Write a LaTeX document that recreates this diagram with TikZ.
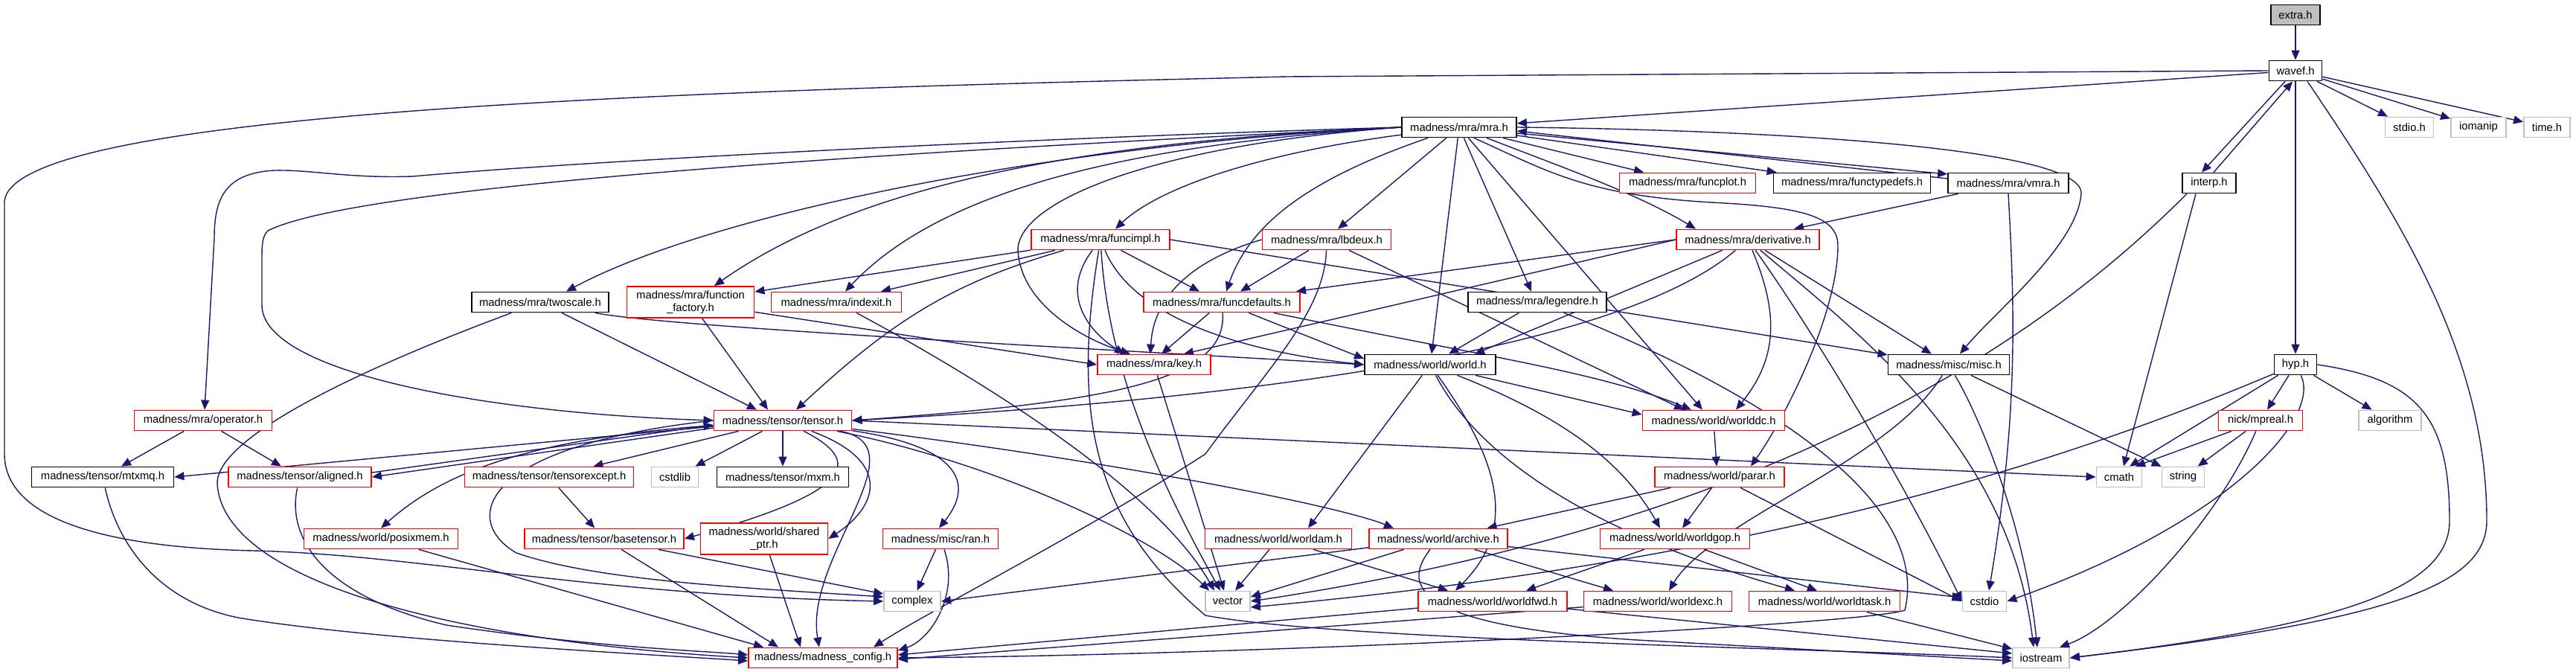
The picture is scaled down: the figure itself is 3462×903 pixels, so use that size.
\documentclass[tikz,border=0pt]{standalone}
\usepackage{fontspec}
\setmainfont{Liberation Sans}
\usetikzlibrary{arrows.meta,calc}
\definecolor{edgec}{HTML}{191970}
\definecolor{redc}{HTML}{FF0000}
\definecolor{grayc}{HTML}{BFBFBF}
\pgfdeclarelayer{bg}
\pgfsetlayers{bg,main}
\begin{document}
\begin{tikzpicture}[x=0.5pt,y=-0.5pt,
 box/.style={draw,rectangle,inner sep=0pt,minimum height=13.5pt,line width=0.9pt,font=\fontsize{7.4pt}{8.6pt}\selectfont,fill=white},
 rb/.style={box,draw=redc},
 kb/.style={box,draw=black},
 gb/.style={box,draw=grayc},
 wd/.style={minimum width=#1*0.5pt},
 tall/.style={minimum height=21pt,align=center},
 e/.style={draw=edgec,line width=0.7pt,-{Triangle[length=6.5pt,width=5.5pt]}},
]
\useasboundingbox (0,0) rectangle (3462,903);
% row 0-1
\node[kb,fill=grayc,wd=66] (extra) at (3085,20) {extra.h};
\node[kb,wd=71] (wavef) at (3085,95) {wavef.h};
% row 2
\node[kb,wd=154] (mra) at (1961,171) {madness/mra/mra.h};
\node[gb,wd=65] (stdioh) at (3238,171) {stdio.h};
\node[gb,wd=74] (iomanip) at (3331,171) {iomanip};
\node[gb,wd=62] (timeh) at (3423,171) {time.h};
% row 3
\node[rb,wd=183] (funcplot) at (2268,246) {madness/mra/funcplot.h};
\node[kb,wd=211] (functypedefs) at (2489,246) {madness/mra/functypedefs.h};
\node[kb,wd=162] (vmra) at (2699,246) {madness/mra/vmra.h};
\node[kb,wd=72] (interp) at (2969,246) {interp.h};
% row 4
\node[rb,wd=186] (funcimpl) at (1479,322) {madness/mra/funcimpl.h};
\node[rb,wd=173] (lbdeux) at (1783,322) {madness/mra/lbdeux.h};
\node[rb,wd=192] (derivative) at (2349,322) {madness/mra/derivative.h};
% row 5
\node[kb,wd=184] (twoscale) at (726,406) {madness/mra/twoscale.h};
\node[rb,wd=171,tall] (funcfactory) at (928,406) {madness/mra/function\\\_factory.h};
\node[rb,wd=175] (indexit) at (1124,406) {madness/mra/indexit.h};
\node[rb,wd=210] (funcdefaults) at (1642,406) {madness/mra/funcdefaults.h};
\node[kb,wd=186] (legendre) at (2066,406) {madness/mra/legendre.h};
% row 6
\node[rb,wd=152] (key) at (1551,490) {madness/mra/key.h};
\node[kb,wd=176] (world) at (1922,490) {madness/world/world.h};
\node[kb,wd=163] (misc) at (2619,490) {madness/misc/misc.h};
\node[kb,wd=57] (hyp) at (3085,490) {hyp.h};
% row 7
\node[rb,wd=185] (operator) at (273,565) {madness/mra/operator.h};
\node[rb,wd=185] (tensor) at (1052,565) {madness/tensor/tensor.h};
\node[rb,wd=191] (worlddc) at (2303,565) {madness/world/worlddc.h};
\node[rb,wd=113] (mpreal) at (3038,565) {nick/mpreal.h};
\node[gb,wd=84] (algorithm) at (3212,565) {algorithm};
% row 8
\node[kb,wd=191] (mtxmq) at (138,641) {madness/tensor/mtxmq.h};
\node[rb,wd=192] (aligned) at (403,641) {madness/tensor/aligned.h};
\node[rb,wd=227] (tensorexcept) at (738,641) {madness/tensor/tensorexcept.h};
\node[gb,wd=63] (cstdlib) at (907,641) {cstdlib};
\node[kb,wd=177] (mxm) at (1052,641) {madness/tensor/mxm.h};
\node[rb,wd=174] (parar) at (2311,641) {madness/world/parar.h};
\node[gb,wd=61] (cmath) at (2848,641) {cmath};
\node[gb,wd=57] (string) at (2934,641) {string};
% row 9
\node[rb,wd=207] (posixmem) at (512,724) {madness/world/posixmem.h};
\node[rb,wd=214] (basetensor) at (812,724) {madness/tensor/basetensor.h};
\node[rb,wd=171,tall] (sharedptr) at (1027,724) {madness/world/shared\\\_ptr.h};
\node[rb,wd=155] (ran) at (1264,724) {madness/misc/ran.h};
\node[rb,wd=197] (worldam) at (1718,724) {madness/world/worldam.h};
\node[rb,wd=186] (archive) at (1933,724) {madness/world/archive.h};
\node[rb,wd=201] (worldgop) at (2251,724) {madness/world/worldgop.h};
% row 10
\node[gb,wd=76] (complex) at (1226,808) {complex};
\node[gb,wd=60] (vector) at (1650,808) {vector};
\node[rb,wd=200] (worldfwd) at (2006,808) {madness/world/worldfwd.h};
\node[rb,wd=199] (worldexc) at (2228,808) {madness/world/worldexc.h};
\node[rb,wd=203] (worldtask) at (2452,808) {madness/world/worldtask.h};
\node[gb,wd=59] (cstdio) at (2667,808) {cstdio};
% row 11
\node[rb,wd=200] (config) at (1106,884) {madness/madness\_config.h};
\node[gb,wd=76] (iostream) at (2743,884) {iostream};

\begin{pgfonlayer}{bg}
\fill[white] (0,0) rectangle (3462,903);
% wavef
\draw[e] (extra) -- (wavef);
\draw[e] (wavef) -- (mra);
\draw[e] (wavef.west) -- (1730,103) .. controls (900,122) and (20,150) .. (6,270) -- (6,610) .. controls (6,690) and (120,735) .. (340,740) .. controls (560,745) and (800,800) .. (complex.west);
\draw[e] ($(wavef.south)+(-14,0)$) -- ($(interp.north)+(-10,0)$);
\draw[e] ($(interp.north)+(6,0)$) -- ($(wavef.south)+(-4,0)$);
\draw[e] (wavef) -- (hyp);
\draw[e] (wavef) -- (stdioh);
\draw[e] (wavef) -- (iomanip);
\draw[e] (wavef) -- (timeh);
\draw[e] ($(wavef.south)+(16,0)$) .. controls (3230,300) and (3342,480) .. (3342,700) .. controls (3342,790) and (3200,835) .. (iostream.east);
% mra
\draw[e] (mra.west) .. controls (1400,185) and (800,215) .. (555,237) .. controls (470,240) and (420,228) .. (370,229) .. controls (300,232) and (288,270) .. (288,320) -- ($(operator.north)+(2,0)$);
\draw[e] (mra.west) .. controls (1400,195) and (500,240) .. (360,310) .. controls (352,318) and (352,330) .. (352,350) -- (352,410) .. controls (352,500) and (650,555) .. (tensor.west);
\draw[e] (mra.west) .. controls (1400,195) and (950,290) .. ($(twoscale.north)+(35,0)$);
\draw[e] (mra.west) .. controls (1450,190) and (1150,250) .. ($(funcfactory.north)+(32,0)$);
\draw[e] (mra.west) .. controls (1500,195) and (1260,260) .. ($(indexit.north)+(12,0)$);
\draw[e] (mra.west) .. controls (1550,195) and (1370,270) .. (1368,335) .. controls (1370,400) and (1440,450) .. ($(key.north)+(-32,0)$);
\draw[e] (mra) .. controls (1700,205) and (1560,250) .. ($(funcimpl.north)+(20,0)$);
\draw[e] (mra) .. controls (1760,240) and (1680,300) .. ($(funcdefaults.north)+(6,0)$);
\draw[e] (mra) -- ($(lbdeux.north)+(15,0)$);
\draw[e] (mra) -- ($(world.north)+(2,0)$);
\draw[e] (mra) -- ($(legendre.north)+(-8,0)$);
\draw[e] (mra) -- ($(worlddc.north)+(-15,0)$);
\draw[e] (mra) .. controls (2100,225) and (2200,260) .. ($(derivative.north)+(-70,0)$);
\draw[e] (mra) -- (funcplot);
\draw[e] (mra) -- (functypedefs);
\draw[e] ($(mra.east)+(0,8)$) -- ($(vmra.west)+(0,-12)$);
\draw[e] ($(vmra.west)+(0,-6)$) -- ($(mra.east)+(0,5)$);
\draw[e] (mra.east) .. controls (2400,175) and (2800,200) .. (2797,260) .. controls (2792,330) and (2680,420) .. ($(misc.north)+(15,0)$);
\draw[e] ($(mra.south)+(20,0)$) .. controls (2080,230) and (2130,262) .. (2300,272) .. controls (2420,278) and (2470,290) .. (2470,330) .. controls (2470,420) and (2400,560) .. ($(parar.north)+(42,0)$);
% vmra, interp
\draw[e] (vmra) -- ($(derivative.north)+(62,0)$);
\draw[e] (vmra.south) .. controls (2708,420) and (2712,560) .. ($(cstdio.north)+(6,0)$);
\draw[e] ($(interp.south)+(-18,0)$) -- ($(cmath.north)+(6,0)$);
\draw[e] ($(interp.south)+(-30,0)$) .. controls (2750,450) and (2400,700) .. (vector.east);
% funcimpl
\draw[e] (funcimpl) -- ($(funcfactory.east)+(0,-14)$);
\draw[e] (funcimpl) -- ($(indexit.north)+(60,0)$);
\draw[e] (funcimpl) .. controls (1280,380) and (1200,430) .. ($(tensor.north)+(18,0)$);
\draw[e] (funcimpl) .. controls (1420,400) and (1470,450) .. ($(key.north)+(-40,0)$);
\draw[e] (funcimpl) -- ($(funcdefaults.north)+(-30,0)$);
\draw[e] (funcimpl) .. controls (1520,420) and (1650,470) .. (world.west);
\draw[e] (funcimpl.east) -- (misc);
\draw[e] (funcimpl) .. controls (1440,560) and (1470,700) .. (1620,827) .. controls (1800,860) and (2400,870) .. (iostream.west);
\draw[e] (funcimpl) .. controls (1490,500) and (1560,650) .. ($(vector.north)+(-10,0)$);
% lbdeux
\draw[e] (lbdeux) -- ($(funcdefaults.north)+(25,0)$);
\draw[e] (lbdeux.west) .. controls (1600,350) and (1550,400) .. ($(key.north)+(-5,0)$);
\draw[e] (lbdeux) -- ($(worlddc.north)+(-40,0)$);
\draw[e] (lbdeux) .. controls (1780,420) and (1700,500) .. (1620,610) .. controls (1450,720) and (1250,820) .. ($(config.north)+(68,0)$);
% derivative
\draw[e] (derivative.west) -- ($(funcdefaults.north)+(100,0)$);
\draw[e] (derivative.west) -- ($(key.north)+(40,0)$);
\draw[e] (derivative) -- ($(world.north)+(60,0)$);
\draw[e] (derivative) .. controls (2200,450) and (1800,530) .. (tensor.east);
\draw[e] (derivative) .. controls (2390,420) and (2390,480) .. ($(worlddc.north)+(30,0)$);
\draw[e] (derivative) -- (misc);
\draw[e] (derivative) .. controls (2500,450) and (2700,600) .. ($(iostream.north)+(-10,0)$);
\draw[e] (derivative) .. controls (2440,450) and (2560,650) .. (cstdio.west);
% twoscale
\draw[e] (twoscale) .. controls (900,440) and (1500,470) .. (world.west);
\draw[e] (twoscale) -- ($(tensor.north)+(-35,0)$);
\draw[e] (twoscale) .. controls (420,520) and (290,600) .. (292,650) .. controls (300,780) and (600,860) .. (config.west);
% funcfactory, indexit, funcdefaults, legendre, key
\draw[e] (funcfactory) -- ($(tensor.north)+(-20,0)$);
\draw[e] (funcfactory) -- (key.west);
\draw[e] (indexit) .. controls (1300,500) and (1550,650) .. ($(vector.north)+(-18,0)$);
\draw[e] (funcdefaults) -- ($(key.north)+(10,0)$);
\draw[e] (funcdefaults) -- ($(world.west)+(0,-8)$);
\draw[e] (funcdefaults) .. controls (2000,480) and (2150,500) .. ($(worlddc.north)+(-30,0)$);
\draw[e] (funcdefaults) .. controls (1650,510) and (1500,540) .. (tensor.east);
\draw[e] (legendre) -- ($(world.north)+(25,0)$);
\draw[e] (legendre) .. controls (2300,500) and (2600,650) .. (2560,820) .. controls (2500,840) and (1700,880) .. (config.east);
\draw[e] (key) -- ($(vector.north)+(-5,0)$);
% world
\draw[e] (world) -- ($(worlddc.west)+(0,-8)$);
\draw[e] (world) -- ($(worldam.north)+(40,0)$);
\draw[e] (world) .. controls (2000,600) and (2050,700) .. ($(worldfwd.north)+(-50,0)$);
\draw[e] (world) .. controls (1990,620) and (2150,720) .. ($(worldtask.north)+(-40,0)$);
\draw[e] (world) .. controls (2100,560) and (2180,620) .. ($(worldgop.north)+(-20,0)$);
\draw[e] (worlddc) -- ($(parar.north)+(-4,0)$);
% misc
\draw[e] (misc) .. controls (2660,560) and (2720,700) .. ($(iostream.north)+(-5,0)$);
\draw[e] (misc) -- (string);
\draw[e] (misc) .. controls (2540,620) and (2300,700) .. ($(worldexc.north)+(15,0)$);
% hyp
\draw[e] (hyp) -- (mpreal);
\draw[e] (hyp) -- (algorithm);
\draw[e] (hyp) -- ($(cmath.north)+(14,0)$);
\draw[e] (hyp) .. controls (3120,560) and (3000,700) .. (cstdio.east);
\draw[e] (hyp.east) .. controls (3250,510) and (3292,560) .. (3292,700) .. controls (3292,790) and (3150,840) .. (iostream.east);
\draw[e] (hyp) .. controls (2800,610) and (2400,750) .. ($(vector.east)+(0,8)$);
\draw[e] (mpreal) -- ($(cmath.north)+(22,0)$);
\draw[e] (mpreal) -- (string);
\draw[e] (mpreal) .. controls (2980,700) and (2850,840) .. ($(iostream.north)+(25,0)$);
% operator, tensor
\draw[e] (operator) -- ($(mtxmq.north)+(25,0)$);
\draw[e] (operator) -- ($(aligned.north)+(-25,0)$);
\draw[e] ($(tensor.west)+(0,8)$) -- (mtxmq.east);
\draw[e] ($(tensor.west)+(0,10)$) -- (aligned.east);
\draw[e] ($(aligned.east)+(0,-6)$) -- ($(tensor.west)+(0,6)$);
\draw[e] (tensor) .. controls (700,590) and (590,640) .. (posixmem.north);
\draw[e] (tensor) -- (tensorexcept);
\draw[e] (tensor) -- (cstdlib);
\draw[e] (tensor) -- (mxm);
\draw[e] (tensor) .. controls (1160,620) and (1150,660) .. (basetensor.east);
\draw[e] (tensor) .. controls (1200,620) and (1180,680) .. (sharedptr.east);
\draw[e] (tensor) .. controls (1240,600) and (1080,750) .. ($(config.north)+(-5,0)$);
\draw[e] (tensor) .. controls (1290,600) and (1310,650) .. ($(ran.north)+(-2,0)$);
\draw[e] (tensor) .. controls (1330,620) and (1550,720) .. ($(vector.north)+(-25,0)$);
\draw[e] (tensor.east) -- (cmath.west);
\draw[e] (tensor) .. controls (1500,620) and (1800,680) .. ($(archive.north)+(-60,0)$);
\draw[e] (tensor.west) .. controls (640,600) and (620,700) .. (694,743) .. controls (800,780) and (1000,790) .. ($(complex.west)+(0,-6)$);
% lower
\draw[e] (aligned) .. controls (385,720) and (430,800) .. (600,840) .. controls (800,870) and (950,875) .. ($(config.west)+(0,-4)$);
\draw[e] (mtxmq) .. controls (160,740) and (220,810) .. (320,830) .. controls (500,860) and (850,878) .. ($(config.west)+(0,4)$);
\draw[e] (posixmem) -- ($(config.north)+(-80,0)$);
\draw[e] (tensorexcept) -- (basetensor);
\draw[e] (basetensor) -- ($(complex.west)+(0,-10)$);
\draw[e] (basetensor) -- ($(config.north)+(-60,0)$);
\draw[e] (sharedptr) -- ($(config.north)+(-30,0)$);
\draw[e] (ran) -- (complex);
\draw[e] (ran) .. controls (1290,800) and (1250,860) .. ($(config.east)+(0,-10)$);
\draw[e] (parar) -- (archive);
\draw[e] (parar) -- ($(worldgop.north)+(10,0)$);
\draw[e] (parar) -- (cstdio.west);
\draw[e] (worldam) -- ($(worldfwd.north)+(-60,0)$);
\draw[e] (worldam) -- ($(vector.north)+(10,0)$);
\draw[e] (archive) -- (complex.east);
\draw[e] (archive) -- ($(vector.east)+(0,-6)$);
\draw[e] (archive) -- ($(worldexc.north)+(-60,0)$);
\draw[e] (archive) .. controls (1890,780) and (1880,840) .. (2200,860) -- ($(iostream.west)+(0,4)$);
\draw[e] (archive) -- ($(cstdio.west)+(0,-5)$);
\draw[e] (worldgop) -- ($(worldfwd.north)+(45,0)$);
\draw[e] (worldgop) -- ($(worldtask.north)+(-10,0)$);
\draw[e] (worldfwd) -- ($(config.east)+(0,-4)$);
\draw[e] (worldfwd) -- ($(iostream.west)+(0,-6)$);
\draw[e] (worldexc) -- ($(config.east)+(0,2)$);
\draw[e] (worldtask) -- ($(iostream.west)+(0,-12)$);
\end{pgfonlayer}
\end{tikzpicture}
\end{document}
